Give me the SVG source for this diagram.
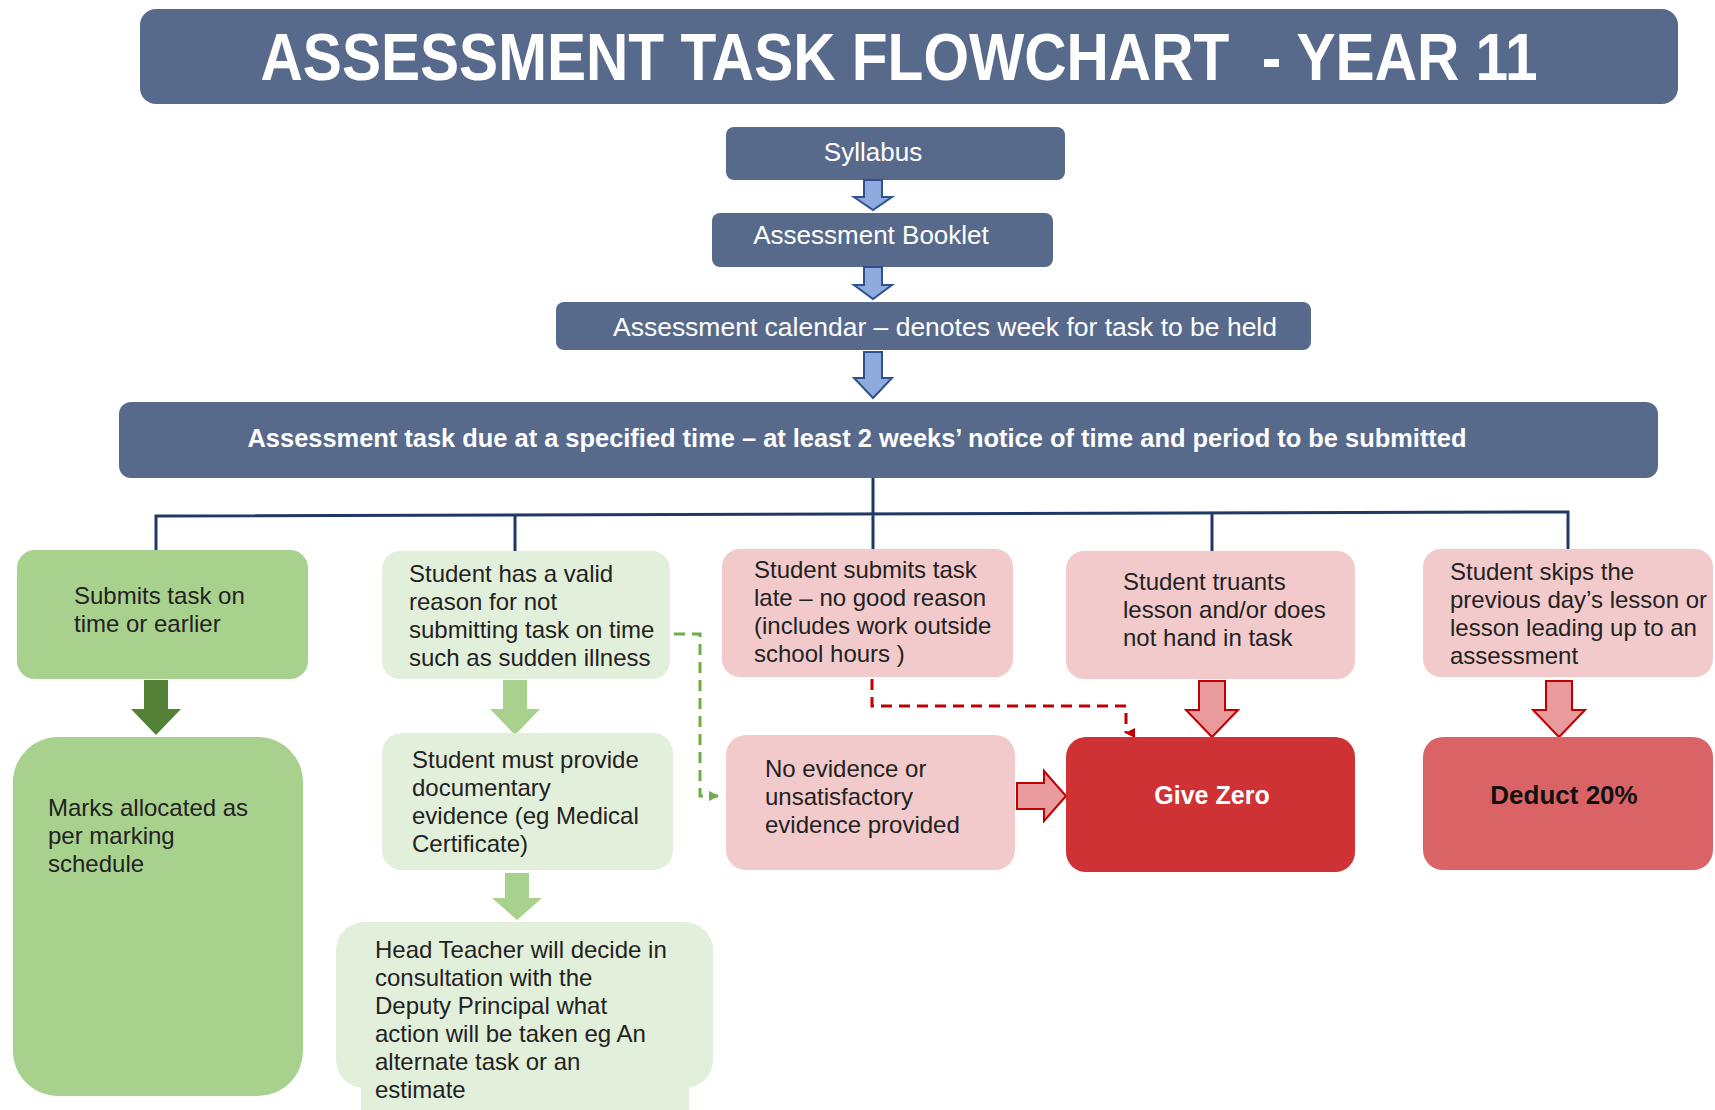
<svg xmlns="http://www.w3.org/2000/svg" width="1715" height="1110" viewBox="0 0 1715 1110">
<defs>
<style>
.navy{fill:#586A8C}
.tw{fill:#ffffff;font-family:"Liberation Sans",Arial,sans-serif}
.t{fill:#222222;font-family:"Liberation Sans",Arial,sans-serif;font-size:24px}
.g1{fill:#A9D18E}
.g2{fill:#E2EFDA}
.p1{fill:#F2CACB}
.barrow{fill:#8FAADC;stroke:#2F528F;stroke-width:2}
.parrow{fill:#E89A9C;stroke:#C00000;stroke-width:2}
.conn{fill:none;stroke:#1F3864;stroke-width:3}
</style>
<marker id="redhead" markerWidth="10" markerHeight="10" refX="5" refY="9" orient="auto" markerUnits="userSpaceOnUse" viewBox="0 0 10 10">
<path d="M0,0 L10,0 L5,10 Z" fill="#C00000"/>
</marker>
<marker id="greenhead" markerWidth="10" markerHeight="10" refX="9" refY="5" orient="auto" markerUnits="userSpaceOnUse" viewBox="0 0 10 10">
<path d="M0,0 L10,5 L0,10 Z" fill="#70AD47"/>
</marker>
</defs>
<rect width="1715" height="1110" fill="#ffffff"/>

<g id="title">
<rect class="navy" x="140" y="9" width="1538" height="95" rx="16"/>
<text class="tw" x="899" y="80" font-size="66" font-weight="bold" text-anchor="middle" textLength="1277" lengthAdjust="spacingAndGlyphs" style="white-space:pre" xml:space="preserve">ASSESSMENT TASK FLOWCHART  - YEAR 11</text>
</g>

<g id="syllabus">
<rect class="navy" x="726" y="127" width="339" height="53" rx="8"/>
<text class="tw" x="873" y="161" font-size="26" text-anchor="middle">Syllabus</text>
</g>
<g id="booklet">
<rect class="navy" x="712" y="213" width="341" height="54" rx="8"/>
<text class="tw" x="871" y="244" font-size="26" text-anchor="middle">Assessment Booklet</text>
</g>
<g id="calendar">
<rect class="navy" x="556" y="302" width="755" height="48" rx="8"/>
<text class="tw" x="945" y="336" font-size="26" text-anchor="middle" textLength="664" lengthAdjust="spacingAndGlyphs">Assessment calendar – denotes week for task to be held</text>
</g>
<g id="due">
<rect class="navy" x="119" y="402" width="1539" height="76" rx="12"/>
<text class="tw" x="857" y="447" font-size="25" font-weight="bold" text-anchor="middle" textLength="1219" lengthAdjust="spacingAndGlyphs">Assessment task due at a specified time – at least 2 weeks’ notice of time and period to be submitted</text>
</g>

<g id="connectors">
<path class="barrow" d="M864,180 H882 V197 H892 L873,210 L854,197 H864 Z"/>
<path class="barrow" d="M864,267 H882 V285 H892 L873,299 L854,285 H864 Z"/>
<path class="barrow" d="M864,352 H882 V378 H892 L873,398 L854,378 H864 Z"/>
<path class="conn" d="M873,478 V513 M156,551 V516 L1568,512 V550 M515,551 V515 M873,549 V513 M1212,551 V513"/>
<path d="M144,680 H168 V709 H181 L156,735 L131,709 H144 Z" fill="#538135"/>
<path d="M503,680 H527 V709 H540 L515,735 L490,709 H503 Z" fill="#A9D18E"/>
<path d="M505,873 H529 V898 H542 L517,920 L492,898 H505 Z" fill="#A9D18E"/>
<path class="parrow" d="M1199,681 H1225 V710 H1238 L1212,737 L1186,710 H1199 Z"/>
<path class="parrow" d="M1546,681 H1572 V710 H1585 L1559,737 L1533,710 H1546 Z"/>
<path class="parrow" d="M1017,783 H1044 V771 L1066,796 L1044,821 V809 H1017 Z"/>
<path d="M872,679 V706 H1126 V733" fill="none" stroke="#C00000" stroke-width="3" stroke-dasharray="11,7" marker-end="url(#redhead)"/>
<path d="M674,634 H700 V796 H718" fill="none" stroke="#70AD47" stroke-width="3" stroke-dasharray="11,7" marker-end="url(#greenhead)"/>
</g>

<g id="submits">
<rect class="g1" x="17" y="550" width="291" height="129" rx="18"/>
<text class="t" x="74" y="604">Submits task on</text>
<text class="t" x="74" y="632">time or earlier</text>
</g>
<g id="valid">
<rect class="g2" x="382" y="551" width="288" height="128" rx="18"/>
<text class="t" x="409" y="582">Student has a valid</text>
<text class="t" x="409" y="610">reason for not</text>
<text class="t" x="409" y="638">submitting task on time</text>
<text class="t" x="409" y="666">such as sudden illness</text>
</g>
<g id="late">
<rect class="p1" x="722" y="549" width="291" height="128" rx="18"/>
<text class="t" x="754" y="578">Student submits task</text>
<text class="t" x="754" y="606">late – no good reason</text>
<text class="t" x="754" y="634">(includes work outside</text>
<text class="t" x="754" y="662">school hours )</text>
</g>
<g id="truants">
<rect class="p1" x="1066" y="551" width="289" height="128" rx="18"/>
<text class="t" x="1123" y="590">Student truants</text>
<text class="t" x="1123" y="618">lesson and/or does</text>
<text class="t" x="1123" y="646">not hand in task</text>
</g>
<g id="skips">
<rect class="p1" x="1423" y="549" width="290" height="128" rx="18"/>
<text class="t" x="1450" y="580">Student skips the</text>
<text class="t" x="1450" y="608">previous day’s lesson or</text>
<text class="t" x="1450" y="636">lesson leading up to an</text>
<text class="t" x="1450" y="664">assessment</text>
</g>

<g id="marks">
<rect class="g1" x="13" y="737" width="290" height="359" rx="45"/>
<text class="t" x="48" y="816">Marks allocated as</text>
<text class="t" x="48" y="844">per marking</text>
<text class="t" x="48" y="872">schedule</text>
</g>
<g id="provide">
<rect class="g2" x="382" y="733" width="291" height="137" rx="20"/>
<text class="t" x="412" y="768">Student must provide</text>
<text class="t" x="412" y="796">documentary</text>
<text class="t" x="412" y="824">evidence (eg Medical</text>
<text class="t" x="412" y="852">Certificate)</text>
</g>
<g id="headteacher">
<rect class="g2" x="336" y="922" width="377" height="166" rx="28"/>
<rect class="g2" x="361" y="1070" width="328" height="40"/>
<text class="t" x="375" y="958">Head Teacher will decide in</text>
<text class="t" x="375" y="986">consultation with the</text>
<text class="t" x="375" y="1014">Deputy Principal what</text>
<text class="t" x="375" y="1042">action will be taken eg An</text>
<text class="t" x="375" y="1070">alternate task or an</text>
<text class="t" x="375" y="1098">estimate</text>
</g>
<g id="noevidence">
<rect class="p1" x="726" y="735" width="289" height="135" rx="20"/>
<text class="t" x="765" y="777">No evidence or</text>
<text class="t" x="765" y="805">unsatisfactory</text>
<text class="t" x="765" y="833">evidence provided</text>
</g>
<g id="givezero">
<rect x="1066" y="737" width="289" height="135" rx="20" fill="#CE3234"/>
<text class="tw" x="1212" y="804" font-size="25" font-weight="bold" text-anchor="middle">Give Zero</text>
</g>
<g id="deduct">
<rect x="1423" y="737" width="290" height="133" rx="20" fill="#DA6465"/>
<text x="1564" y="804" font-size="26" font-weight="bold" text-anchor="middle" fill="#111111" font-family="Liberation Sans, Arial, sans-serif">Deduct 20%</text>
</g>
</svg>
